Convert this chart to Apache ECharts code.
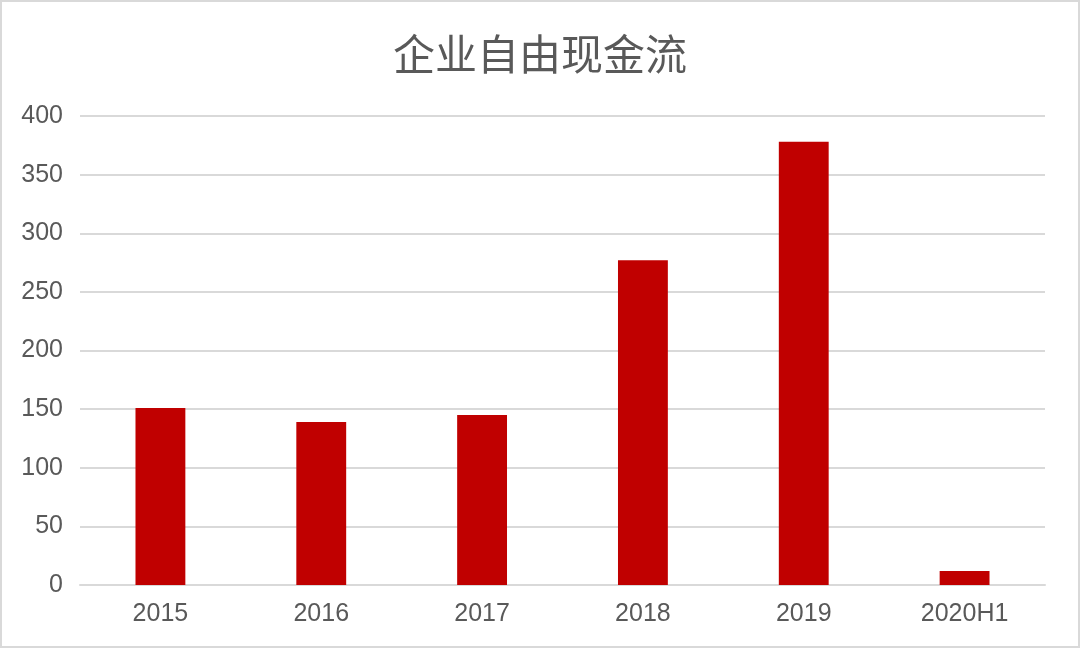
<!DOCTYPE html>
<html>
<head>
<meta charset="utf-8">
<script src="https://cdn.jsdelivr.net/npm/echarts@6/dist/echarts.min.js"></script>
<style>
html,body{margin:0;padding:0;background:#fff;}
#main{width:1080px;height:648px;box-sizing:border-box;border:2px solid #d9d9d9;}
</style>
</head>
<body>
<div id="main"></div>
<script>
// 数据
var years = ['2015', '2016', '2017', '2018', '2019', '2020H1'];
var cashFlow = [151, 139, 145, 277, 378, 12];
var yTicks = [0, 50, 100, 150, 200, 250, 300, 350, 400];

var myChart = echarts.init(document.getElementById('main'));

var option = {
    title: {
        text: '企业自由现金流',
        left: 'center',
        top: 26,
        textStyle: {
            color: '#595959',
            fontSize: 42,
            fontWeight: 'normal',
            fontFamily: 'Noto Sans CJK SC'
        }
    },
    //图表位置
    grid: {
        left: 78,
        right: 33,
        top: 114,
        bottom: 61
    },
    xAxis: {
        type: 'category',
        data: years,
        axisLine: {
            lineStyle: {color: '#d9d9d9', width: 2}
        },
        axisTick: {show: false},
        axisLabel: {
            color: '#595959',
            fontSize: 25,
            margin: 17,
            fontFamily: 'Liberation Sans'
        }
    },
    yAxis: {
        type: 'value',
        min: yTicks[0],
        max: yTicks[yTicks.length - 1],
        interval: 50,
        axisLine: {show: false},
        axisTick: {show: false},
        axisLabel: {
            color: '#595959',
            fontSize: 25,
            margin: 17,
            fontFamily: 'Liberation Sans'
        },
        splitLine: {
            lineStyle: {color: '#d9d9d9', width: 2}
        }
    },
    series: [
        {
            name: '企业自由现金流',
            type: 'bar',
            data: cashFlow,
            barWidth: '31%', //柱宽
            itemStyle: {color: '#c00000'}
        }
    ]
};

myChart.setOption(option);
</script>
</body>
</html>
